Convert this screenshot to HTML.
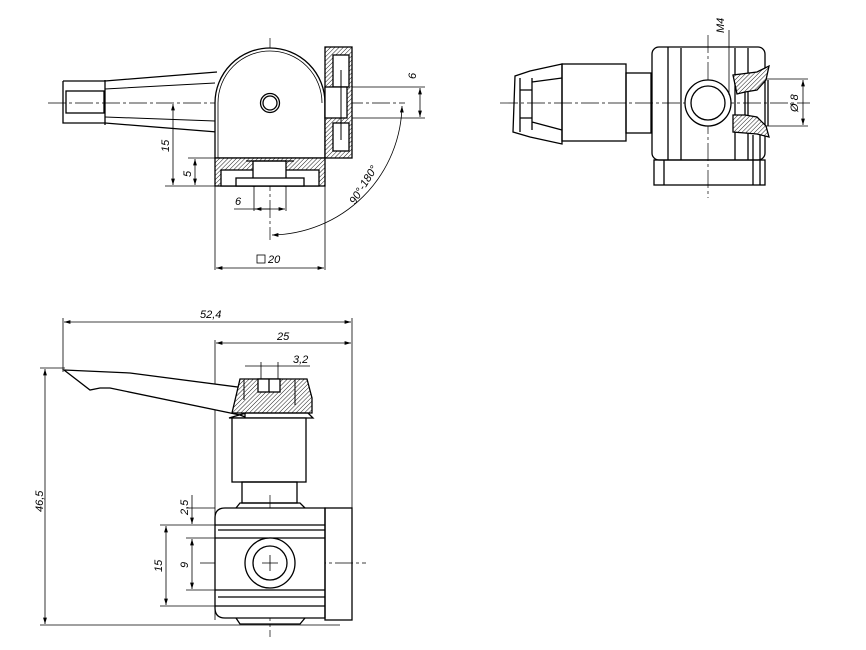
<!DOCTYPE html>
<html><head><meta charset="utf-8"><style>
html,body{margin:0;padding:0;background:#fff;}
svg{display:block;}
text{font-family:"Liberation Sans",sans-serif;font-style:italic;font-size:11px;fill:#000;}
</style></head><body>
<svg width="866" height="650" viewBox="0 0 866 650" xmlns="http://www.w3.org/2000/svg">
<defs>
<pattern id="h" width="3" height="3" patternUnits="userSpaceOnUse" patternTransform="rotate(45)">
<rect width="3" height="3" fill="#fff"/><line x1="0" y1="0" x2="0" y2="3" stroke="#000" stroke-width="0.9"/>
</pattern>
<marker id="a" viewBox="0 0 10 6" refX="10" refY="3" markerWidth="8" markerHeight="5" orient="auto-start-reverse"><path d="M0,0 L10,3 L0,6" fill="#000"/></marker>
</defs>
<g fill="none" stroke="#000" stroke-width="1.3">
<!-- ===== TOP LEFT VIEW ===== -->
<line x1="48" y1="103" x2="405" y2="103" stroke-width="0.7" stroke-dasharray="18,3,3,3"/>
<line x1="270" y1="38" x2="270" y2="240" stroke-width="0.7" stroke-dasharray="18,3,3,3"/>
<path d="M63,81 L105,81 L217,72 M63,81 L63,123 L105,123 L217,132"/>
<line x1="105" y1="80" x2="105" y2="125"/>
<rect x="66" y="91" width="38" height="22"/>
<path d="M105,89 L215,83 M105,117 L215,121" stroke-width="1"/>
<path d="M215,158 L215,103 A55,55 0 0 1 325,103 L325,158 Z" fill="#fff"/>
<path d="M218,158 L218,103 A52,52 0 0 1 322,103" stroke-width="0.8"/>
<circle cx="270" cy="103" r="9.5"/><circle cx="270" cy="103" r="7"/>
<rect x="325" y="47" width="27" height="111" fill="url(#h)"/>
<rect x="333" y="55" width="16" height="32" fill="#fff"/>
<rect x="333" y="123" width="16" height="28" fill="#fff"/>
<rect x="325" y="87" width="22" height="31" fill="#fff"/>
<line x1="341" y1="70" x2="341" y2="140" stroke-width="1"/>
<rect x="215" y="158" width="110" height="28" fill="url(#h)"/>
<rect x="221" y="170" width="34" height="16" fill="#fff"/>
<rect x="285" y="170" width="34" height="16" fill="#fff"/>
<rect x="253" y="161" width="33" height="25" fill="#fff"/>
<rect x="236" y="178" width="68" height="8" fill="#fff"/>
<line x1="246" y1="161" x2="294" y2="161"/>
<!-- dims -->
<g stroke-width="0.8">
<line x1="165" y1="186" x2="215" y2="186"/><line x1="188" y1="158" x2="215" y2="158"/>
<line x1="173" y1="104" x2="173" y2="185" marker-start="url(#a)" marker-end="url(#a)"/>
<line x1="195" y1="159" x2="195" y2="185" marker-start="url(#a)" marker-end="url(#a)"/>
<line x1="254" y1="186" x2="254" y2="211"/><line x1="286" y1="186" x2="286" y2="211"/>
<line x1="234" y1="209" x2="285" y2="209" marker-end="url(#a)"/><line x1="270" y1="209" x2="255" y2="209" marker-end="url(#a)"/>
<line x1="215" y1="186" x2="215" y2="270"/><line x1="325" y1="186" x2="325" y2="270"/>
<line x1="216" y1="268" x2="324" y2="268" marker-start="url(#a)" marker-end="url(#a)"/>
<line x1="352" y1="87" x2="425" y2="87"/><line x1="352" y1="118" x2="425" y2="118"/>
<line x1="420" y1="88" x2="420" y2="117" marker-start="url(#a)" marker-end="url(#a)"/>
<path d="M402,106 A132,132 0 0 1 272,235" marker-start="url(#a)" marker-end="url(#a)"/>
</g>
<!-- ===== TOP RIGHT VIEW ===== -->
<line x1="500" y1="103" x2="810" y2="103" stroke-width="0.7" stroke-dasharray="18,3,3,3"/>
<line x1="708" y1="35" x2="708" y2="198" stroke-width="0.7" stroke-dasharray="18,3,3,3"/>
<rect x="652" y="47" width="113" height="113" rx="7"/>
<line x1="668" y1="47" x2="668" y2="160"/><line x1="681" y1="48" x2="681" y2="160"/>
<line x1="735" y1="48" x2="735" y2="160"/><line x1="748" y1="48" x2="748" y2="160"/>
<rect x="654" y="160" width="111" height="25"/>
<line x1="664" y1="160" x2="664" y2="185"/><line x1="753" y1="135" x2="753" y2="185"/><line x1="760" y1="135" x2="760" y2="185"/>
<rect x="562" y="64" width="64" height="77"/>
<rect x="626" y="73" width="25" height="60"/>
<path d="M562,64 L530,71 L515,76 L513,132 L530,137 L562,144 Z"/>
<path d="M520,78 L520,132 M532,78 L532,130 M532,82 L562,78 M532,122 L562,130 M520,90 L532,90 M520,118 L532,118"/>
<circle cx="708" cy="103" r="23" fill="#fff"/><circle cx="708" cy="103" r="17"/>
<path d="M733,75 L757,72 L769,66 L766,80 L757,90 L745,92 L737,94 Z" fill="url(#h)"/>
<path d="M733,115 L745,115 L757,117 L766,126 L769,137 L757,134 L733,132 Z" fill="url(#h)"/>
<line x1="745" y1="92" x2="745" y2="115"/><line x1="768" y1="80" x2="768" y2="126"/>
<g stroke-width="0.8">
<line x1="766" y1="79" x2="808" y2="79"/><line x1="766" y1="126" x2="808" y2="126"/>
<line x1="803" y1="80" x2="803" y2="125" marker-start="url(#a)" marker-end="url(#a)"/>
<line x1="729" y1="30" x2="729" y2="95"/>
</g>
<!-- ===== BOTTOM VIEW ===== -->
<g stroke-width="0.8">
<line x1="63" y1="318" x2="63" y2="372"/><line x1="352" y1="318" x2="352" y2="620"/>
<line x1="64" y1="322" x2="351" y2="322" marker-start="url(#a)" marker-end="url(#a)"/>
<line x1="215" y1="340" x2="215" y2="620"/>
<line x1="216" y1="343" x2="351" y2="343" marker-start="url(#a)" marker-end="url(#a)"/>
<line x1="245" y1="366" x2="310" y2="366"/><line x1="261" y1="362" x2="261" y2="380"/><line x1="278" y1="362" x2="278" y2="380"/>
<line x1="40" y1="368" x2="65" y2="368"/><line x1="40" y1="625" x2="340" y2="625"/>
<line x1="45" y1="369" x2="45" y2="624" marker-start="url(#a)" marker-end="url(#a)"/>
<line x1="186" y1="508" x2="215" y2="508"/>
<line x1="160" y1="525" x2="215" y2="525"/><line x1="186" y1="538" x2="215" y2="538"/>
<line x1="186" y1="590" x2="215" y2="590"/><line x1="160" y1="606" x2="215" y2="606"/>
<line x1="192" y1="495" x2="192" y2="524" marker-end="url(#a)"/>
<line x1="192" y1="539" x2="192" y2="589" marker-start="url(#a)" marker-end="url(#a)"/>
<line x1="166" y1="526" x2="166" y2="605" marker-start="url(#a)" marker-end="url(#a)"/>
<line x1="200" y1="563" x2="366" y2="563" stroke-width="0.7" stroke-dasharray="18,3,3,3"/>
<line x1="270" y1="495" x2="270" y2="637" stroke-width="0.7" stroke-dasharray="18,3,3,3"/>
</g>
<path d="M64,370 L130,373 L245,388 L245,417 L240,415 L110,388 L100,388 L90,390 Z" fill="#fff"/>
<path d="M240,379 L307,379 L312,398 L312,413 L232,413 Z" fill="url(#h)"/>
<rect x="258" y="379" width="22" height="13" fill="#fff"/><line x1="269" y1="379" x2="269" y2="392"/>
<path d="M244,380 L244,400 M295,380 L295,405" stroke-width="1"/>
<path d="M246,413 L308,413 L313,418 L229,418 Z"/>
<rect x="232" y="418" width="74" height="64" fill="#fff"/>
<rect x="242" y="482" width="55" height="21"/>
<path d="M236,508 L240,503 L300,503 L305,508"/>
<path d="M325,508 L225,508 Q215,508 215,518 L215,608 Q215,618 225,618 L325,618 Z" fill="#fff"/>
<rect x="325" y="508" width="27" height="112"/>
<path d="M215,525 L325,525 M218,530 L325,530 M215,538 L325,538 M215,590 L325,590 M218,597 L325,597 M215,606 L325,606"/>
<path d="M236,618 L240,624 L300,624 L305,618"/>
<circle cx="270" cy="563" r="25" fill="#fff"/><circle cx="270" cy="563" r="17"/>
<path d="M262,563 L278,563 M270,555 L270,571" stroke-width="0.8"/>
</g>
<!-- texts -->
<text x="0" y="0" transform="translate(169,152) rotate(-90)">15</text>
<text x="0" y="0" transform="translate(191,177) rotate(-90)">5</text>
<text x="235" y="205">6</text>
<rect x="257" y="255" width="8" height="8" fill="none" stroke="#000" stroke-width="0.8"/>
<text x="268" y="263">20</text>
<text x="0" y="0" transform="translate(416,79) rotate(-90)">6</text>
<text x="0" y="0" transform="translate(355,205) rotate(-58)">90°-180°</text>
<text x="0" y="0" transform="translate(724,33) rotate(-90)">M4</text>
<text x="0" y="0" transform="translate(798,112) rotate(-90)">Ø 8</text>
<text x="200" y="318">52,4</text>
<text x="277" y="340">25</text>
<text x="293" y="363">3,2</text>
<text x="0" y="0" transform="translate(43,512) rotate(-90)">46,5</text>
<text x="0" y="0" transform="translate(188,515) rotate(-90)">2,5</text>
<text x="0" y="0" transform="translate(188,568) rotate(-90)">9</text>
<text x="0" y="0" transform="translate(162,572) rotate(-90)">15</text>
</svg>
</body></html>
